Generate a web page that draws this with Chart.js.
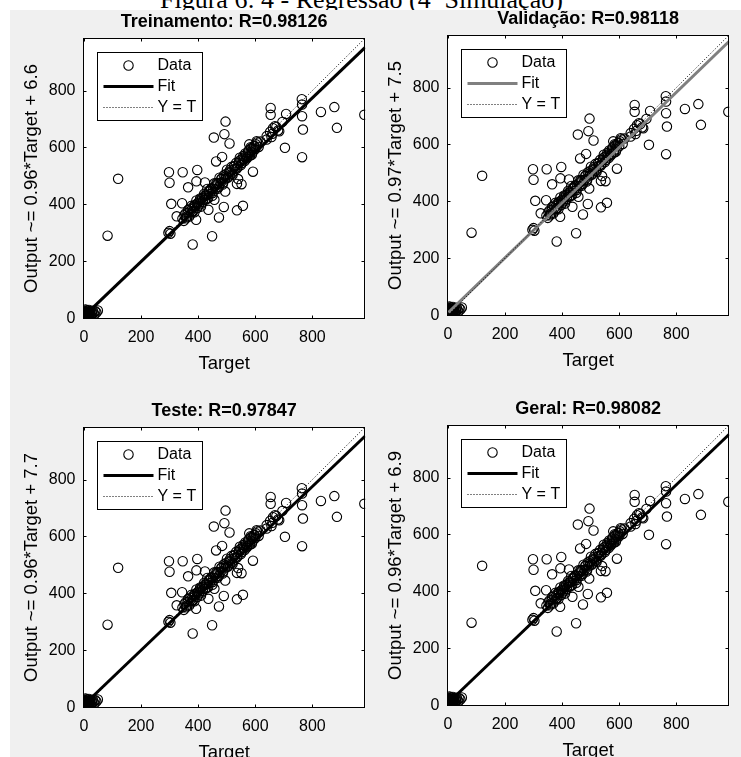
<!DOCTYPE html>
<html>
<head>
<meta charset="utf-8">
<script src="https://cdn.jsdelivr.net/npm/chart.js@4.4.1/dist/chart.umd.min.js"></script>
<style>
    html, body { margin: 0; padding: 0; background: #fff; }
    body { width: 741px; height: 757px; position: relative; overflow: hidden; }
    #caption {
        position: absolute; left: 160px; top: -13px; white-space: nowrap;
        font: 26px/26px "Liberation Serif", "Times New Roman", serif; color: #000;
    }
    #fig { position: absolute; left: 10px; top: 10px; right: 0; bottom: 0; background: #f0f0f0; }
    canvas { position: absolute; }
</style>
</head>
<body>
<div id="caption">Figura 6: 4 - Regressão (4ª Simulação)</div>
<div id="fig"></div>
<script>
// 회귀 결과 (Target vs Output) - 4개 패널이 같은 샘플을 사용
const targets = [
    // 0 근처 뭉친 샘플
    0, 1, 2, 2, 3, 4, 5, 5, 6, 7, 8, 8, 9, 10, 11, 12, 13, 14, 15, 16,
    17, 18, 20, 21, 23, 25, 27, 29, 31, 34, 37, 40, 44, 49, 3, 6, 10, 14,
    // 외곽 샘플
    83, 120, 296, 300, 303, 298, 300, 306, 325, 346, 344, 365, 381, 393, 394, 397,
    424, 436, 449, 455, 457, 463, 473, 484, 490, 492, 495, 496, 510, 536, 536, 540,
    552, 557, 592, 579, 605,
    // 대각선 주변 밀집 구간
    345, 350, 356, 360, 365, 369, 373, 377, 380, 384, 387, 390, 394, 397, 400, 404,
    407, 410, 414, 418, 421, 425, 428, 432, 435, 439, 442, 446, 450, 453, 457, 460,
    464, 468, 471, 475, 479, 482, 486, 490, 494, 497, 501, 505, 509, 513, 517, 521,
    525, 529, 533, 538, 542, 546, 550, 555, 560, 565, 570, 575, 580, 584, 588, 592,
    596, 600, 606, 612, 618,
    352, 358, 363, 371, 376, 383, 389, 396, 402, 409, 416, 423, 430, 437, 444, 451,
    458, 466, 473, 481, 488, 496, 503, 511, 519, 527, 535, 543, 548, 553, 558, 563,
    568, 572, 577, 582, 587, 591, 597, 603,
    // 상단 구간
    640, 652, 654, 654, 657, 662, 669, 674, 684, 695, 704, 708, 763, 764, 764, 764,
    767, 830, 877, 886, 982, 640, 660, 680
];
const outputs = [
    3, 9, 14, 1, 20, 6, 11, 24, 16, 2, 19, 8, 27, 13, 22, 5, 17, 26, 10, 21,
    14, 29, 12, 24, 18, 9, 22, 15, 26, 19, 13, 24, 20, 27, 4, 30, 0, 7,
    290, 490, 300, 306, 297, 513, 476, 402, 358, 513, 404, 460, 259, 346, 481, 521,
    477, 381, 288, 635, 416, 551, 354, 567, 391, 647, 445, 691, 614, 379, 472, 489,
    471, 395, 515, 611, 622,
    350, 342, 368, 357, 380, 357, 377, 395, 374, 393, 372, 392, 414, 387, 406, 400,
    421, 392, 422, 416, 437, 416, 431, 454, 421, 446, 437, 457, 430, 454, 474, 453,
    474, 455, 475, 494, 476, 490, 470, 502, 488, 499, 522, 494, 514, 512, 532, 504,
    534, 525, 546, 530, 545, 564, 538, 561, 558, 579, 561, 585, 575, 601, 574, 596,
    604, 594, 618, 602, 621,
    362, 351, 371, 385, 368, 377, 398, 402, 395, 418, 409, 431, 420, 445, 452, 440,
    463, 471, 462, 489, 477, 506, 495, 520, 508, 534, 525, 551, 556, 545, 570, 552,
    575, 566, 590, 572, 598, 583, 606, 611,
    640, 655, 715, 739, 637, 668, 675, 672, 657, 690, 599, 718, 770, 710, 751, 566,
    663, 725, 742, 669, 715, 628, 648, 660
];

const panelTitles = ['Treinamento: R=0.98126', 'Validação: R=0.98118', 'Teste: R=0.97847', 'Geral: R=0.98082'];
const fitSlopes = [0.96, 0.97, 0.96, 0.96];
const fitIntercepts = [6.6, 7.5, 7.7, 6.9];
const fitColors = ['#000', '#808080', '#000', '#000'];
const tickValues = [0, 200, 400, 600, 800];
const axisMin = -3;
const axisMax = 985;

// 패널별 플롯 영역 (페이지 좌표: left, top, right, bottom)
const boxes = [
    [83, 38, 365, 319],
    [447, 35, 729, 316],
    [83, 427, 365, 708],
    [447, 425, 729, 706]
];
const PAD_L = 72, PAD_T = 30, PAD_R = 6, PAD_B = 56;

Chart.defaults.font.family = "'Liberation Sans', Arial, Helvetica, sans-serif";
Chart.defaults.color = '#000';

// 흰 플롯 배경, 테두리, 안쪽 눈금, 범례
const framePlugin = {
    id: 'frame',
    beforeDraw(chart) {
        const { ctx, chartArea: a } = chart;
        ctx.save();
        ctx.fillStyle = '#fff';
        ctx.fillRect(a.left, a.top, a.width, a.height);
        ctx.restore();
    },
    afterDraw(chart) {
        const { ctx, chartArea: a, scales } = chart;
        const l = Math.round(a.left) + 0.5, t = Math.round(a.top) + 0.5;
        const r = Math.round(a.right) - 0.5, b = Math.round(a.bottom) - 0.5;
        ctx.save();
        ctx.strokeStyle = '#000';
        ctx.lineWidth = 1;
        ctx.beginPath();
        tickValues.forEach(v => {
            const px = Math.round(scales.x.getPixelForValue(v)) + 0.5;
            const py = Math.round(scales.y.getPixelForValue(v)) + 0.5;
            ctx.moveTo(px, b); ctx.lineTo(px, b - 3);
            ctx.moveTo(px, t); ctx.lineTo(px, t + 3);
            ctx.moveTo(l, py); ctx.lineTo(l + 3, py);
            ctx.moveTo(r, py); ctx.lineTo(r - 3, py);
        });
        ctx.stroke();
        ctx.strokeRect(l, t, r - l, b - t);

        // 범례 박스
        const ds = chart.data.datasets;
        const x0 = l + 14, y0 = t + 14;
        ctx.fillStyle = '#fff';
        ctx.fillRect(x0, y0, 105, 68);
        ctx.strokeRect(x0, y0, 105, 68);
        ctx.font = "16px 'Liberation Sans', Arial, sans-serif";
        ctx.textBaseline = 'middle';
        ds.forEach((d, k) => {
            const y = y0 + 13 + k * 21;
            ctx.save();
            if (k === 0) {
                ctx.strokeStyle = d.pointBorderColor;
                ctx.lineWidth = d.pointBorderWidth;
                ctx.beginPath();
                ctx.arc(x0 + 31, y, d.pointRadius, 0, Math.PI * 2);
                ctx.stroke();
            } else {
                ctx.strokeStyle = d.borderColor;
                ctx.lineWidth = d.borderWidth;
                ctx.setLineDash(d.borderDash || []);
                ctx.beginPath();
                ctx.moveTo(x0 + 6, y);
                ctx.lineTo(x0 + 56, y);
                ctx.stroke();
            }
            ctx.restore();
            ctx.fillStyle = '#000';
            ctx.fillText(d.label, x0 + 60, y);
        });
        ctx.restore();
    }
};

const points = targets.map((t, k) => ({ x: t, y: outputs[k] }));

boxes.forEach((box, i) => {
    const [L, T, R, B] = box;
    const cv = document.createElement('canvas');
    const w = PAD_L + (R - L) + PAD_R;
    const h = PAD_T + (B - T) + PAD_B;
    cv.width = w; cv.height = h;
    cv.style.left = (L - PAD_L) + 'px';
    cv.style.top = (T - PAD_T) + 'px';
    document.body.appendChild(cv);

    const slope = fitSlopes[i], icpt = fitIntercepts[i];
    const axisTicks = s => { s.ticks = tickValues.map(v => ({ value: v })); };

    new Chart(cv, {
        type: 'scatter',
        data: {
            datasets: [
                {
                    label: 'Data', data: points, showLine: false,
                    pointRadius: 4.7, pointHoverRadius: 4.7, pointBorderWidth: 1.1,
                    pointBorderColor: '#000', pointBackgroundColor: 'rgba(0,0,0,0)',
                    order: 3, clip: 0
                },
                {
                    label: 'Fit', showLine: true, pointRadius: 0,
                    data: [{ x: axisMin, y: slope * axisMin + icpt }, { x: axisMax, y: slope * axisMax + icpt }],
                    borderColor: fitColors[i], borderWidth: 3, order: 2, clip: 0
                },
                {
                    label: 'Y = T', showLine: true, pointRadius: 0,
                    data: [{ x: axisMin, y: axisMin }, { x: axisMax, y: axisMax }],
                    borderColor: '#000', borderWidth: 1, borderDash: [1, 2], order: 1, clip: 0
                }
            ]
        },
        options: {
            responsive: false,
            animation: false,
            devicePixelRatio: 1,
            events: [],
            layout: { padding: 0 },
            plugins: {
                legend: { display: false },
                tooltip: { enabled: false },
                title: {
                    display: true, text: panelTitles[i], fullSize: false,
                    font: { size: 18, weight: 'bold' }, color: '#000',
                    padding: { top: 3.2, bottom: 5.2 }
                }
            },
            scales: {
                x: {
                    type: 'linear', min: axisMin, max: axisMax,
                    afterBuildTicks: axisTicks,
                    afterFit: s => { s.height = PAD_B; },
                    grid: { display: false, drawTicks: false },
                    border: { display: false },
                    ticks: { font: { size: 16 }, padding: 8.5, color: '#000' },
                    title: { display: true, text: 'Target', font: { size: 18.5 }, padding: { top: 0, bottom: 0.2 }, color: '#000' }
                },
                y: {
                    type: 'linear', min: axisMin, max: axisMax,
                    afterBuildTicks: axisTicks,
                    afterFit: s => { s.width = PAD_L; },
                    grid: { display: false, drawTicks: false },
                    border: { display: false },
                    ticks: { font: { size: 16 }, padding: 7.5, color: '#000' },
                    title: {
                        display: true, text: 'Output ~= ' + slope + '*Target + ' + icpt,
                        font: { size: 18.5 }, padding: { top: 10, bottom: 0 }, color: '#000'
                    }
                }
            }
        },
        plugins: [framePlugin]
    });
});
</script>
</body>
</html>
